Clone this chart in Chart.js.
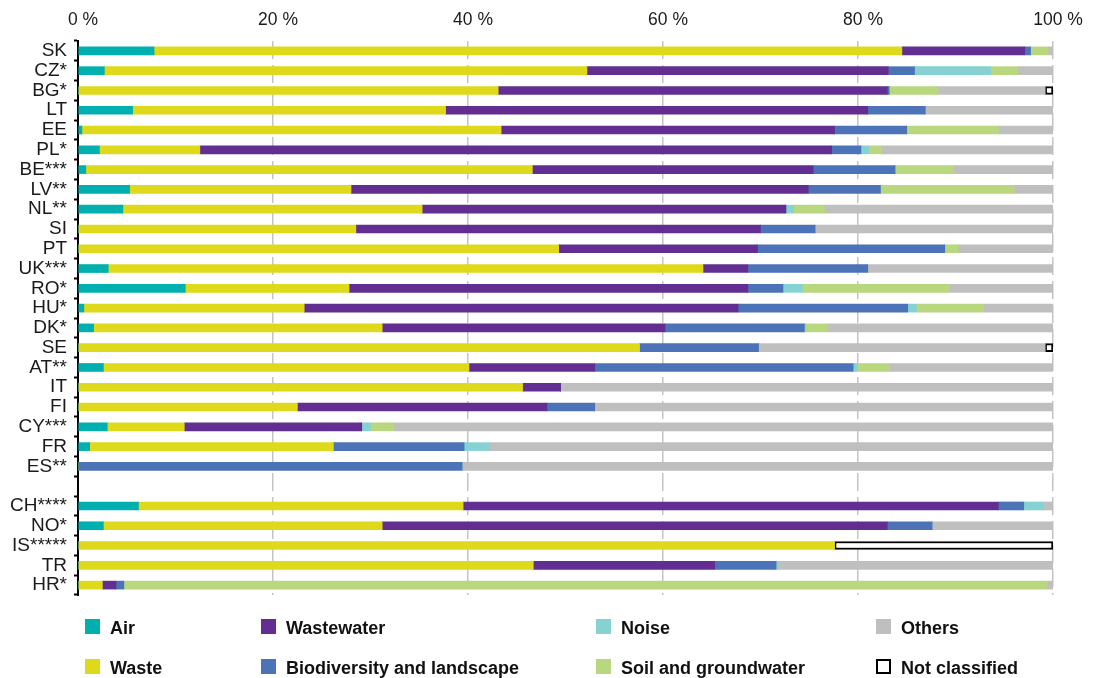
<!DOCTYPE html>
<html>
<head>
<meta charset="utf-8">
<script src="https://cdn.jsdelivr.net/npm/chart.js@4/dist/chart.umd.min.js"></script>
<style>
  html, body { margin: 0; padding: 0; background: #ffffff; }
  #wrap { width: 1096px; height: 678px; position: relative; }
</style>
</head>
<body>
<div id="wrap"><canvas id="chart" width="1096" height="678"></canvas></div>
<script>
// Countries (blank entry separates EU members from other countries)
const categories = ['SK','CZ*','BG*','LT','EE','PL*','BE***','LV**','NL**','SI','PT','UK***','RO*','HU*','DK*','SE','AT**','IT','FI','CY***','FR','ES**','','CH****','NO*','IS*****','TR','HR*'];

// Share of each environmental domain (%)
const air          = [7.8, 2.7, 0, 5.6, 0.4, 2.2, 0.8, 5.3, 4.6, 0, 0, 3.1, 11.0, 0.6, 1.6, 0, 2.6, 0, 0, 3.0, 1.2, 0, null, 6.2, 2.6, 0, 0, 0];
const waste        = [76.7, 49.5, 43.1, 32.1, 43.0, 10.3, 45.8, 22.7, 30.7, 28.5, 49.3, 61.0, 16.8, 22.6, 29.6, 57.6, 37.5, 45.6, 22.5, 7.9, 25.0, 0, null, 33.3, 28.6, 77.6, 46.7, 2.5];
const wastewater   = [12.6, 30.9, 39.9, 43.3, 34.2, 64.8, 28.8, 46.9, 37.3, 41.5, 20.4, 4.6, 40.9, 44.5, 29.0, 0, 12.9, 3.9, 25.6, 18.2, 0, 0, null, 54.9, 51.8, 0, 18.6, 1.4];
const biodiversity = [0.6, 2.7, 0.2, 5.9, 7.4, 3.0, 8.4, 7.4, 0, 5.6, 19.2, 12.3, 3.6, 17.4, 14.3, 12.2, 26.5, 0, 4.9, 0, 13.4, 39.4, null, 2.6, 4.6, 0, 6.3, 0.8];
const noise        = [0, 7.8, 0, 0, 0, 0.8, 0, 0, 0.8, 0, 0, 0, 2.0, 0.9, 0.1, 0, 0.4, 0, 0, 0.9, 2.6, 0, null, 2.0, 0, 0, 0.2, 0];
const soil         = [1.8, 2.8, 5.0, 0, 9.4, 1.3, 6.0, 13.7, 3.2, 0, 1.4, 0, 15.1, 6.9, 2.3, 0, 3.3, 0, 0, 2.4, 0, 0, null, 0, 0, 0, 0, 94.7];
const others       = [0.5, 3.6, 11.0, 13.1, 5.6, 17.6, 10.2, 4.0, 23.4, 24.4, 9.7, 19.0, 10.6, 7.1, 23.1, 29.4, 16.8, 50.5, 47.0, 67.6, 57.8, 60.6, null, 1.0, 12.4, 0, 28.2, 0.6];
const notClassified= [null, null, 0.8, null, null, null, null, null, null, null, null, null, null, null, null, 0.8, null, null, null, null, null, null, null, null, null, 22.4, null, null];

// Axis ticks
const xTickValues = [0, 20, 40, 60, 80, 100];
const xTickLabels = ['0 %', '20 %', '40 %', '60 %', '80 %', '100 %'];

const COLORS = {
  air: '#00AFAF',
  waste: '#DFD91B',
  wastewater: '#622E91',
  biodiversity: '#4C73B8',
  noise: '#86D1D2',
  soil: '#B9D77E',
  others: '#BFBFBF'
};

function ds(label, data, color, extra) {
  return Object.assign({
    label, data,
    backgroundColor: color,
    borderWidth: 0,
    barThickness: 8,
    stack: 's'
  }, extra || {});
}

const datasets = [
  ds('Air', air, COLORS.air),
  ds('Waste', waste, COLORS.waste),
  ds('Wastewater', wastewater, COLORS.wastewater),
  ds('Biodiversity and landscape', biodiversity, COLORS.biodiversity),
  ds('Noise', noise, COLORS.noise),
  ds('Soil and groundwater', soil, COLORS.soil),
  ds('Others', others, COLORS.others),
  ds('Not classified', notClassified, '#FFFFFF', { borderColor: '#000000', borderWidth: 2, borderSkipped: false })
];

// Legend grid: two rows, four columns (column-major order of datasets)
const legendCols = [85, 261, 596, 876];
const legendRows = [619, 659];
const legendPlugin = {
  id: 'gridLegend',
  afterDraw(chart) {
    const ctx = chart.ctx;
    ctx.save();
    ctx.font = 'bold 18px "Liberation Sans", Arial, sans-serif';
    ctx.textBaseline = 'alphabetic';
    ctx.textAlign = 'left';
    chart.data.datasets.forEach((d, i) => {
      const x = legendCols[Math.floor(i / 2)];
      const y = legendRows[i % 2];
      if (d.borderWidth) {
        ctx.fillStyle = '#ffffff';
        ctx.fillRect(x, y, 15, 15);
        ctx.strokeStyle = '#000000';
        ctx.lineWidth = 2;
        ctx.strokeRect(x + 1, y + 1, 13, 13);
      } else {
        ctx.fillStyle = d.backgroundColor;
        ctx.fillRect(x, y, 15, 15);
      }
      ctx.fillStyle = '#111111';
      ctx.fillText(d.label, x + 25, y + 15);
    });
    ctx.restore();
  }
};

new Chart(document.getElementById('chart'), {
  type: 'bar',
  data: { labels: categories, datasets },
  options: {
    indexAxis: 'y',
    responsive: false,
    animation: false,
    layout: { padding: { left: 0, right: 43, top: 0, bottom: 83 } },
    plugins: {
      legend: { display: false },
      tooltip: { enabled: false }
    },
    scales: {
      x: {
        position: 'top',
        stacked: true,
        min: 0,
        max: 100,
        afterFit(scale) { scale.height = 41; },
        afterBuildTicks(scale) { scale.ticks = xTickValues.map(v => ({ value: v })); },
        grid: {
          color: '#C4C4C4',
          lineWidth: 1.5,
          drawTicks: false
        },
        border: { display: false, dash: [18, 6] },
        ticks: {
          padding: 10,
          labelOffset: 5,
          color: '#1a1a1a',
          font: { family: '"Liberation Sans", Arial, sans-serif', size: 17.5 },
          callback(value, index) { return xTickLabels[index]; }
        }
      },
      y: {
        stacked: true,
        afterFit(scale) { scale.width = 78; },
        border: { display: true, color: '#000000', width: 2 },
        grid: {
          offset: true,
          drawOnChartArea: false,
          drawTicks: true,
          tickLength: 4,
          tickWidth: 2,
          tickColor: '#000000'
        },
        ticks: {
          autoSkip: false,
          padding: 7,
          color: '#1a1a1a',
          font: { family: '"Liberation Sans", Arial, sans-serif', size: 19 }
        }
      }
    }
  },
  plugins: [legendPlugin]
});
</script>
</body>
</html>
